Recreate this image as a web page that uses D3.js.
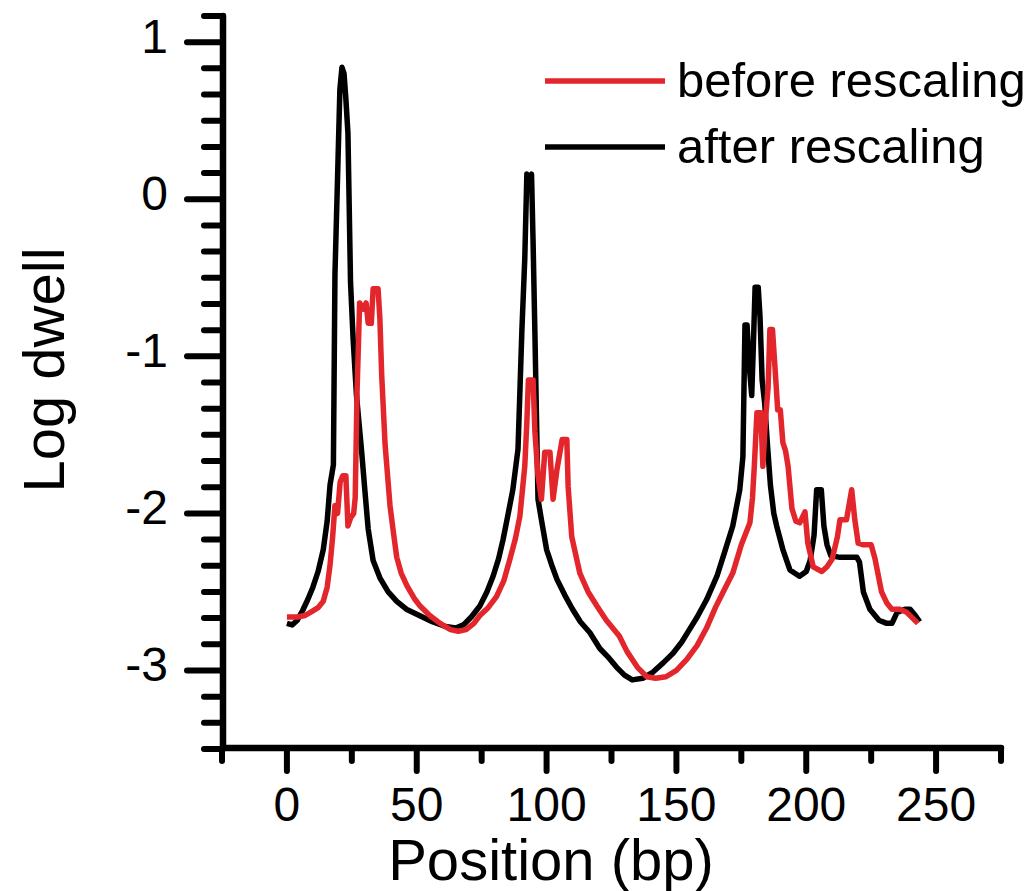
<!DOCTYPE html>
<html>

<head>
    <title>Log dwell</title>
    <meta charset="utf-8">
    <script src="https://d3js.org/d3.v7.min.js"></script>
    <style>
        body { margin: 0; background: white; }
        text { font-family: Arial, "Liberation Sans", sans-serif; fill: black; }
    </style>
</head>

<body>
    <div id="chart"></div>
</body>

<script>

    // position (bp), log dwell
    let beforeRescaling = [
        [0,-2.66],[4,-2.66],[7,-2.65],[10,-2.62],[12,-2.6],[14,-2.56],[15.5,-2.47],[16.6,-2.33],
        [17.6,-2.15],[18.5,-1.95],[19.5,-2.0],[20.5,-1.8],[21.5,-1.76],[22.7,-1.76],[23.5,-2.08],
        [24.5,-2.03],[25.7,-2.0],[26.3,-1.9],[27,-1.23],[28,-0.66],[29.5,-0.7],[30.5,-0.66],
        [31.3,-0.79],[32.5,-0.79],[33.2,-0.57],[35.1,-0.57],[35.8,-0.76],[36.5,-1.12],[37.8,-1.56],
        [39.7,-1.95],[41,-2.12],[42.3,-2.28],[44,-2.38],[46.2,-2.46],[49,-2.54],[51.3,-2.59],
        [55,-2.65],[59,-2.7],[63,-2.74],[66,-2.75],[69,-2.74],[72,-2.7],[74.3,-2.65],[77.5,-2.6],
        [80.7,-2.53],[83.5,-2.43],[85.9,-2.29],[88,-2.16],[89.7,-2.02],[91.6,-1.7],[92.4,-1.42],
        [93,-1.15],[94.8,-1.15],[95.5,-1.48],[96.7,-1.76],[98,-1.91],[99.3,-1.61],[101.3,-1.61],
        [102.5,-1.91],[104,-1.72],[106,-1.53],[107.8,-1.53],[108.3,-1.83],[109.7,-2.15],[112.8,-2.38],
        [116,-2.5],[119.4,-2.59],[123,-2.68],[128,-2.78],[131,-2.88],[135,-2.98],[138.6,-3.04],
        [142,-3.05],[146,-3.04],[150,-3.0],[154,-2.93],[158,-2.84],[161.6,-2.73],[165,-2.6],
        [168,-2.5],[171.7,-2.38],[175,-2.2],[178.3,-2.06],[179.3,-1.9],[180,-1.7],[181,-1.36],
        [182.5,-1.36],[183.3,-1.7],[184.3,-1.4],[185.3,-1.2],[186,-0.83],[187,-0.83],[188,-1.08],
        [189,-1.34],[190,-1.34],[191,-1.55],[192,-1.6],[193,-1.7],[194.5,-1.97],[196,-2.05],
        [197.5,-2.06],[199.5,-1.99],[200.6,-2.19],[202.7,-2.34],[206,-2.37],[208,-2.34],[210,-2.29],
        [212,-2.15],[213,-2.04],[215.5,-2.04],[217.5,-1.85],[218.7,-2.04],[220,-2.19],[222,-2.2],
        [225,-2.2],[226.5,-2.29],[229,-2.5],[231,-2.57],[233,-2.61],[236,-2.61],[238.7,-2.63],
        [243,-2.7]
    ];

    let afterRescaling = [
        [0,-2.7],[2,-2.71],[4,-2.68],[6,-2.62],[8,-2.55],[10,-2.47],[12,-2.37],[14,-2.23],
        [15.5,-2.05],[16.6,-1.82],[17.9,-1.69],[18.5,-0.48],[19.7,0.26],[20.4,0.7],[21.2,0.84],
        [22,0.8],[22.7,0.64],[23.5,0.42],[24.5,-0.53],[25.5,-0.89],[26.8,-1.25],[28.8,-1.61],
        [30,-1.85],[31.3,-2.1],[33.2,-2.3],[35.8,-2.41],[39,-2.5],[42.3,-2.56],[46,-2.61],
        [51,-2.65],[56,-2.69],[61,-2.72],[65,-2.73],[68,-2.71],[71,-2.66],[74.3,-2.59],[77,-2.5],
        [79.4,-2.4],[81.5,-2.29],[83.2,-2.17],[85,-2.02],[87,-1.85],[89,-1.59],[90.5,-0.83],
        [91.6,-0.38],[92.4,0.16],[93.2,0.13],[94.2,0.16],[94.8,-0.27],[95.5,-0.85],[96.7,-1.91],
        [98,-2.04],[100,-2.23],[102,-2.33],[104,-2.42],[107,-2.52],[110,-2.61],[113,-2.69],
        [116.7,-2.76],[120.5,-2.86],[124,-2.92],[127,-2.98],[130,-3.03],[133,-3.06],[137,-3.05],
        [141,-3.01],[145,-2.95],[148.7,-2.89],[152,-2.82],[155,-2.74],[158,-2.66],[161.6,-2.55],
        [165.6,-2.4],[168.5,-2.25],[171.7,-2.08],[174.4,-1.85],[175.6,-1.64],[176.4,-0.8],
        [177.2,-0.8],[178,-1.05],[179,-1.25],[179.6,-0.95],[180.3,-0.56],[181.5,-0.56],[182.2,-0.75],
        [183,-1.15],[184,-1.3],[185,-1.55],[186.2,-1.82],[187.5,-2.0],[188.6,-2.08],[191,-2.23],
        [193.7,-2.36],[197.4,-2.4],[200,-2.37],[201.5,-2.3],[203,-2.14],[204,-1.85],[205.8,-1.85],
        [206.8,-2.08],[208,-2.2],[209.5,-2.27],[213,-2.28],[216,-2.28],[219.5,-2.28],[220.5,-2.31],
        [222,-2.5],[224.5,-2.61],[228,-2.68],[231,-2.7],[233,-2.7],[235,-2.63],[238,-2.61],
        [240,-2.61],[242,-2.65],[243.7,-2.69]
    ];

    let xMajor = [0, 50, 100, 150, 200, 250];
    let yMajor = [-3, -2, -1, 0, 1];
    let legendLabels = ["before rescaling", "after rescaling"];

    let width = 1036,
        height = 891;

    let x = d3.scaleLinear()
        .domain([-25, 275])
        .range([222, 1001]);

    let y = d3.scaleLinear()
        .domain([-3.5, 7 / 6])
        .range([749, 16]);

    let svg = d3.select("#chart")
        .append("svg")
            .attr("width", width)
            .attr("height", height);

    // minor ticks: x every 25, y every 1/6
    let xMinor = d3.range(-25, 276, 25).filter(d => xMajor.indexOf(d) < 0);
    let yMinor = d3.range(0, 29).map(k => -3.5 + k / 6).filter(d => Math.abs(d - Math.round(d)) > 0.01);

    let axisG = svg.append("g")
        .attr("stroke", "black")
        .attr("stroke-linecap", "round");

    axisG.selectAll(".xmaj")
        .data(xMajor)
        .join("line")
            .attr("x1", d => x(d)).attr("x2", d => x(d))
            .attr("y1", 748).attr("y2", 771)
            .attr("stroke-width", 6);

    axisG.selectAll(".xmin")
        .data(xMinor)
        .join("line")
            .attr("x1", d => x(d)).attr("x2", d => x(d))
            .attr("y1", 748).attr("y2", 761)
            .attr("stroke-width", 6);

    axisG.selectAll(".ymaj")
        .data(yMajor)
        .join("line")
            .attr("x1", 223).attr("x2", 187)
            .attr("y1", d => y(d)).attr("y2", d => y(d))
            .attr("stroke-width", 6);

    axisG.selectAll(".ymin")
        .data(yMinor)
        .join("line")
            .attr("x1", 223).attr("x2", 204)
            .attr("y1", d => y(d)).attr("y2", d => y(d))
            .attr("stroke-width", 6);

    // axis lines
    axisG.append("line")
        .attr("x1", 223).attr("x2", 223)
        .attr("y1", y(7 / 6)).attr("y2", 748)
        .attr("stroke-width", 6.5);
    axisG.append("line")
        .attr("x1", 223).attr("x2", x(275))
        .attr("y1", 748).attr("y2", 748)
        .attr("stroke-width", 6.5);

    // tick labels
    svg.selectAll(".xlab")
        .data(xMajor)
        .join("text")
            .attr("x", d => x(d))
            .attr("y", 821)
            .attr("text-anchor", "middle")
            .attr("font-size", 48)
            .text(d => d);

    svg.selectAll(".ylab")
        .data(yMajor)
        .join("text")
            .attr("x", 168)
            .attr("y", d => y(d) + 11)
            .attr("text-anchor", "end")
            .attr("font-size", 48)
            .text(d => d);

    // axis titles
    svg.append("text")
        .attr("x", 551)
        .attr("y", 880)
        .attr("text-anchor", "middle")
        .attr("font-size", 58)
        .text("Position (bp)");

    svg.append("text")
        .attr("transform", "translate(64,370) rotate(-90)")
        .attr("text-anchor", "middle")
        .attr("font-size", 58)
        .text("Log dwell");

    // data lines
    let line = d3.line()
        .x(d => x(d[0]))
        .y(d => y(d[1]));

    svg.append("path")
        .datum(afterRescaling)
        .attr("d", line)
        .attr("fill", "none")
        .attr("stroke", "black")
        .attr("stroke-width", 5.5)
        .attr("stroke-linejoin", "round");

    svg.append("path")
        .datum(beforeRescaling)
        .attr("d", line)
        .attr("fill", "none")
        .attr("stroke", "#e3262b")
        .attr("stroke-width", 5.5)
        .attr("stroke-linejoin", "round");

    // legend
    let legendColors = ["#e3262b", "black"];
    let legend = svg.selectAll(".legend")
        .data(legendLabels)
        .join("g")
            .attr("transform", (d, i) => `translate(0, ${81 + i * 66})`);

    legend.append("line")
        .attr("x1", 545).attr("x2", 665)
        .attr("y1", 0).attr("y2", 0)
        .attr("stroke", (d, i) => legendColors[i])
        .attr("stroke-width", 5.5);

    legend.append("text")
        .attr("x", 677)
        .attr("y", 16)
        .attr("font-size", 49)
        .text(d => d);

</script>

</html>
